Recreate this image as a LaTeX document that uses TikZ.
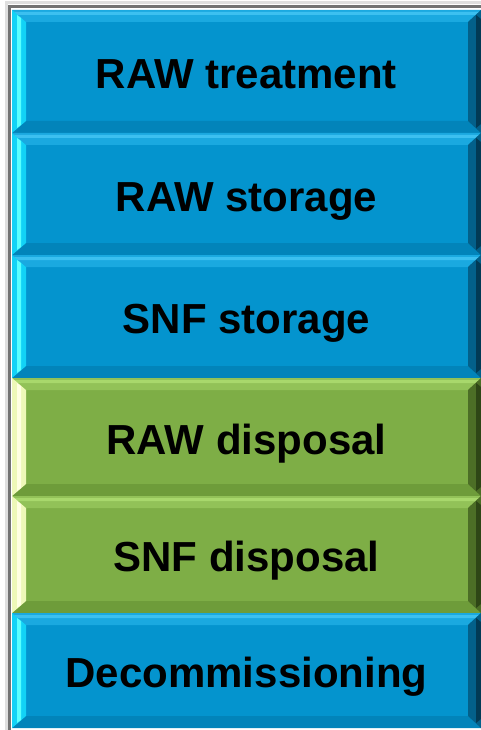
\documentclass[tikz,border=0pt]{standalone}
\usepackage{fontspec}
\setmainfont{Liberation Sans}
\definecolor{blueMain}{HTML}{0494CE}
\definecolor{blueTop}{HTML}{1AA9E0}
\definecolor{blueTopHi}{HTML}{3CC0F0}
\definecolor{blueBot}{HTML}{0284BA}
\definecolor{blueLeft}{HTML}{12D2F6}
\definecolor{blueLeftHi}{HTML}{5AFFFF}
\definecolor{blueRight}{HTML}{03608A}
\definecolor{blueRightDk}{HTML}{023A55}
\definecolor{greenMain}{HTML}{7EAE46}
\definecolor{greenTop}{HTML}{92C258}
\definecolor{greenTopHi}{HTML}{A8D86C}
\definecolor{greenBot}{HTML}{6E9C3A}
\definecolor{greenLeft}{HTML}{EEF8B8}
\definecolor{greenLeftHi}{HTML}{FFFFE2}
\definecolor{greenRight}{HTML}{4C6E26}
\definecolor{greenRightDk}{HTML}{2E4616}
\tikzset{
  stagelabel/.style={font=\fontsize{42}{48}\selectfont\bfseries, text=black, inner sep=0pt, anchor=base}
}
% #1 name, #2 top, #3 bottom, #4 palette, #5 text
\newcommand{\stage}[5]{
  \fill[#4Main] (12,#2) rectangle (481,#3);
  \fill[#4Top] (12,#2) -- (481,#2) -- (468,#2+12) -- (26,#2+12) -- cycle;
  \fill[#4TopHi] (14,#2+2) -- (479,#2+2) -- (476,#2+5) -- (17,#2+5) -- cycle;
  \fill[#4Bot] (12,#3) -- (481,#3) -- (468,#3-12) -- (26,#3-12) -- cycle;
  \fill[#4Left] (12,#2) -- (26,#2+12) -- (26,#3-12) -- (12,#3) -- cycle;
  \fill[#4LeftHi] (17,#2+5) -- (21,#2+8) -- (21,#3-8) -- (17,#3-5) -- cycle;
  \fill[#4Right] (481,#2) -- (468,#2+12) -- (468,#3-12) -- (481,#3) -- cycle;
  \fill[#4RightDk] (476,#2+5) -- (481,#2+9) -- (481,#3-9) -- (476,#3-5) -- cycle;
  \node[stagelabel] (#1) at (246.5,{(#2+#3)/2+17}) {#5};
}
\begin{document}
\begin{tikzpicture}[x=1pt,y=-1pt]
  \useasboundingbox (0,0) rectangle (481,730);
  \clip (0,0) rectangle (481,730);
  % frame
  \draw[gray!25, line width=3] (6,3) rectangle (500,750);
  \draw[gray!90!black, line width=2.5] (9.5,6.5) rectangle (500,750);
  % stages
  \stage{rawtreat}{10}{133}{blue}{RAW treatment}
  \stage{rawstore}{133}{255}{blue}{RAW storage}
  \stage{snfstore}{255}{378}{blue}{SNF storage}
  \stage{rawdisp}{378}{496}{green}{RAW disposal}
  \stage{snfdisp}{496}{613}{green}{SNF disposal}
  \stage{decomm}{613}{728}{blue}{Decommissioning}
\end{tikzpicture}
\end{document}
